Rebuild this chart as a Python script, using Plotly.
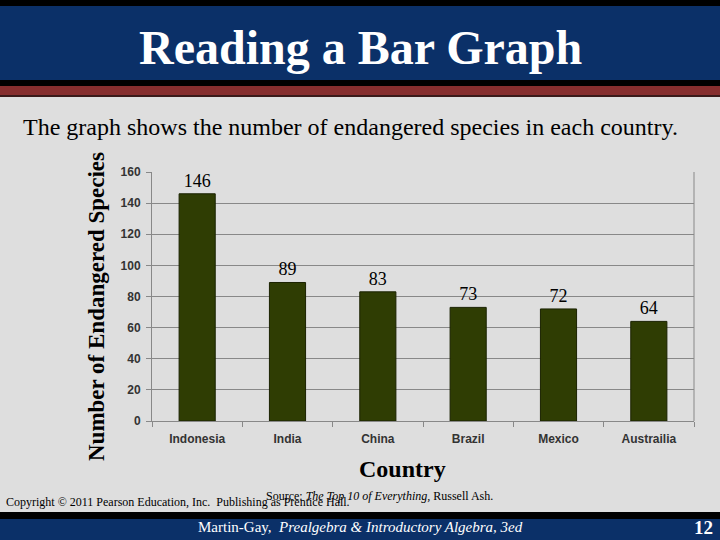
import plotly.graph_objects as go

countries = ["Indonesia", "India", "China", "Brazil", "Mexico", "Austrailia"]
species = [146, 89, 83, 73, 72, 64]
y_ticks = [0, 20, 40, 60, 80, 100, 120, 140, 160]

W, H = 720, 540
L, R, T, B = 152, 694, 172, 421


def px(x):
    return (x - L) / (R - L)


def py(y):
    return (B - y) / (B - T)


fig = go.Figure()
fig.add_trace(go.Bar(
    x=countries, y=species,
    marker=dict(color="#2f3d03", line=dict(color="#1a2200", width=1)),
    text=[str(v) for v in species], textposition="outside",
    textfont=dict(family="Liberation Serif", size=18, color="black"),
    cliponaxis=False, width=0.4,
))

shapes = []
def rect(x0, y0, x1, y1, color):
    shapes.append(dict(type="rect", xref="paper", yref="paper",
                       x0=px(x0), x1=px(x1), y0=py(y1), y1=py(y0),
                       fillcolor=color, line=dict(width=0), layer="below"))

rect(0, 0, W, 6, "#000000")
rect(0, 6, W, 80, "#0b3068")
rect(0, 80, W, 86, "#000000")
rect(0, 86, W, 95, "#862e2e")
rect(0, 95, W, 97, "#3a1a1a")
rect(0, 512, W, 519, "#000000")
rect(0, 519, W, H, "#0b3068")
# plot area right border
shapes.append(dict(type="line", xref="paper", yref="paper", x0=1, x1=1, y0=0, y1=1,
                   line=dict(color="#888888", width=1)))


def ann(text, x, y, size, color="black", xanchor="center", angle=0):
    return dict(text=text, x=px(x), y=py(y), xref="paper", yref="paper",
                xanchor=xanchor, yanchor="middle", textangle=angle, showarrow=False,
                font=dict(family="Liberation Serif", size=size, color=color))


annotations = [
    ann("<b>Reading a Bar Graph</b>", 360, 47, 48, "white"),
    ann("The graph shows the number of endangered species in each country.", 21, 127, 24, xanchor="left"),
    ann("<b>Number of Endangered Species</b>", 96, 307, 23, angle=-90),
    ann("<b>Country</b>", 402, 469, 24),
    ann("Source: <i>The Top 10 of Everything,</i> Russell Ash.", 264, 496, 12, xanchor="left"),
    ann("Copyright © 2011 Pearson Education, Inc.  Publishing as Prentice Hall.", 4, 502, 12, xanchor="left"),
    ann("Martin-Gay,  <i>Prealgebra &amp; Introductory Algebra, 3ed</i>", 360, 527, 15, "white"),
    ann("<b>12</b>", 703, 527, 19, "white"),
]

fig.update_layout(
    width=W, height=H,
    margin=dict(l=L, r=W - R, t=T, b=H - B, pad=0),
    paper_bgcolor="#dedede", plot_bgcolor="#dedede",
    showlegend=False,
    shapes=shapes, annotations=annotations,
    font=dict(family="Liberation Sans"),
)
fig.update_xaxes(
    showline=True, linecolor="#888888", linewidth=1,
    ticks="outside", ticklen=5, tickcolor="#888888", tickson="boundaries",
    ticklabelstandoff=7,
    tickfont=dict(family="Liberation Sans", size=12, color="#333333", weight="bold"),
    showgrid=False,
)
fig.update_yaxes(
    range=[0, 160], tickvals=y_ticks,
    showline=True, linecolor="#888888", linewidth=1,
    ticks="outside", ticklen=5, tickcolor="#888888",
    ticklabelstandoff=3,
    gridcolor="#888888", gridwidth=1,
    tickfont=dict(family="Liberation Sans", size=12, color="#333333", weight="bold"),
    zeroline=False,
)

fig.write_html("out.html", config={"displayModeBar": False},
               post_script="document.body.style.margin='0';")
